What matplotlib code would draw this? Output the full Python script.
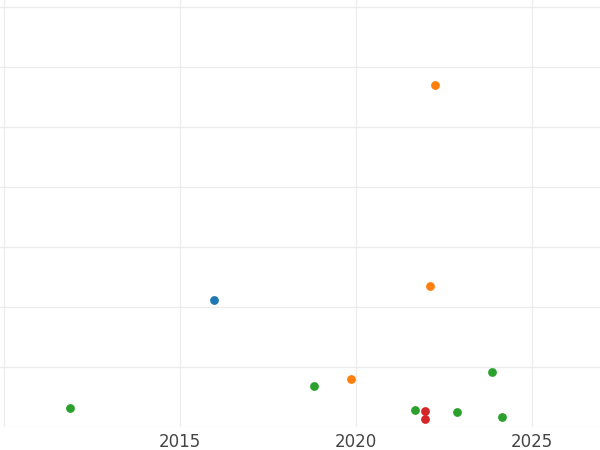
import matplotlib
matplotlib.use("Agg")
from matplotlib import pyplot as plt

# Data (y in arbitrary units, y labels not visible)
blue_x = [2015.97]
blue_y = [2.12]
orange_x = [2022.24, 2022.10, 2019.86]
orange_y = [5.70, 2.35, 0.80]
green_x = [2011.88, 2018.81, 2023.86, 2021.68, 2022.87, 2024.15]
green_y = [0.32, 0.68, 0.92, 0.28, 0.25, 0.17]
red_x = [2021.96, 2021.96]
red_y = [0.27, 0.13]
xtick_vals = [2010, 2015, 2020, 2025]
xtick_labels = ['', '2015', '2020', '2025']

fig = plt.figure(figsize=(6, 4.5), dpi=100)
ax = fig.add_axes([0, 1 - 427 / 450, 1, 427 / 450])

for xs, ys, c in [(blue_x, blue_y, '#1f77b4'), (orange_x, orange_y, '#ff7f0e'),
                  (green_x, green_y, '#2ca02c'), (red_x, red_y, '#d62728')]:
    ax.scatter(xs, ys, color=c, s=40, zorder=3, linewidths=0)

ax.set_xlim(2009.89, 2026.93)
ax.set_ylim(0, 427 / 60)
ax.set_xticks(xtick_vals)
ax.set_xticklabels(xtick_labels)
ax.set_yticks(range(0, 8))
ax.set_yticklabels([])
ax.tick_params(axis='both', length=0, labelsize=12, labelcolor='#444444', pad=4)
ax.grid(True, color='#ececec', linewidth=0.9)
ax.set_axisbelow(True)
for s in ax.spines.values():
    s.set_visible(False)

fig.savefig('out.png', dpi=100)
